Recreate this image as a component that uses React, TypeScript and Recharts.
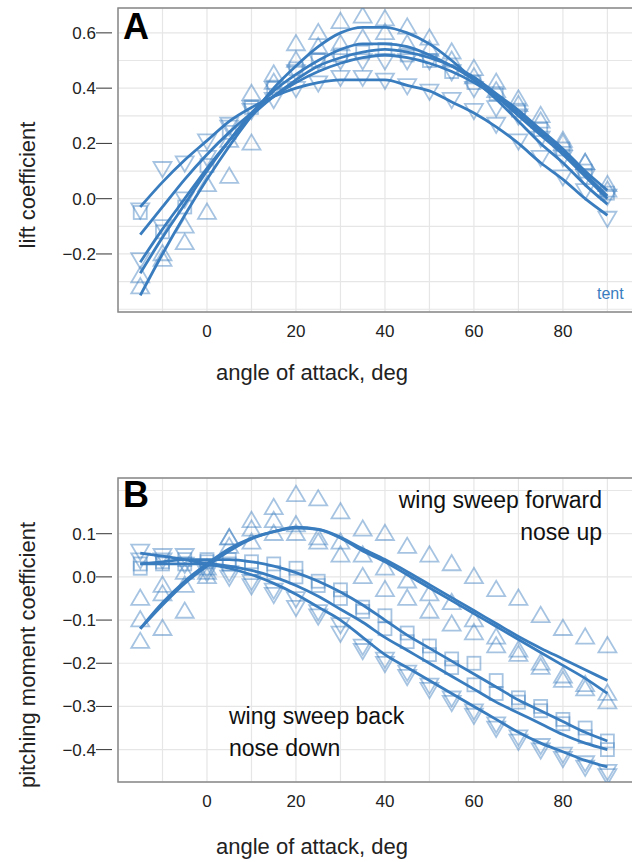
import React from "react";
import { ComposedChart, Line, Scatter, XAxis, YAxis, CartesianGrid, ReferenceArea } from "recharts";

const angles = [-15,-10,-5,0,5,10,15,20,25,30,35,40,45,50,55,60,65,70,75,80,85,90];

const liftFit1 = [-0.35,-0.20,-0.06,0.07,0.19,0.30,0.40,0.48,0.55,0.60,0.62,0.62,0.60,0.56,0.50,0.43,0.36,0.28,0.20,0.13,0.05,-0.02];
const liftFit2 = [-0.27,-0.14,-0.02,0.10,0.21,0.31,0.39,0.45,0.50,0.54,0.56,0.56,0.55,0.52,0.48,0.43,0.37,0.30,0.23,0.16,0.08,0.00];
const liftFit3 = [-0.23,-0.11,0.00,0.11,0.21,0.30,0.37,0.43,0.48,0.51,0.53,0.54,0.53,0.51,0.48,0.44,0.38,0.32,0.25,0.18,0.10,0.03];
const liftFit4 = [-0.13,-0.03,0.07,0.16,0.24,0.31,0.37,0.42,0.46,0.49,0.51,0.52,0.51,0.49,0.46,0.42,0.37,0.31,0.24,0.17,0.09,0.01];
const liftFit5 = [-0.03,0.06,0.14,0.21,0.28,0.33,0.37,0.40,0.42,0.43,0.43,0.43,0.41,0.39,0.35,0.31,0.26,0.20,0.13,0.07,0.00,-0.06];

const liftUp1 = [-0.32,-0.22,-0.16,-0.05,0.08,0.20,0.45,0.56,0.60,0.64,0.66,0.65,0.62,0.58,0.53,0.47,0.42,0.36,0.30,0.21,0.13,0.05];
const liftUp2 = [-0.28,-0.20,-0.10,0.05,0.21,0.38,0.42,0.50,0.55,0.56,0.58,0.60,0.56,0.54,0.50,0.44,0.39,0.34,0.28,0.20,0.13,0.03];
const liftSq = [-0.05,-0.12,-0.03,0.12,0.24,0.33,0.40,0.47,0.50,0.52,0.53,0.54,0.52,0.50,0.46,0.42,0.38,0.32,0.25,0.18,0.10,0.02];
const liftDn1 = [-0.04,0.11,0.13,0.21,0.27,0.32,0.36,0.40,0.42,0.44,0.44,0.43,0.41,0.39,0.36,0.32,0.27,0.21,0.15,0.08,0.03,-0.07];
const liftDn2 = [-0.22,-0.10,0.00,0.15,0.26,0.33,0.40,0.46,0.50,0.50,0.50,0.50,0.50,0.50,0.46,0.40,0.33,0.30,0.22,0.15,0.08,0.01];

const pitchFit1 = [-0.12,-0.06,-0.01,0.03,0.065,0.09,0.105,0.115,0.11,0.09,0.06,0.035,0.005,-0.025,-0.055,-0.085,-0.115,-0.145,-0.175,-0.205,-0.235,-0.27];
const pitchFit1b = [-0.12,-0.065,-0.015,0.025,0.06,0.088,0.105,0.113,0.11,0.092,0.065,0.04,0.012,-0.018,-0.048,-0.078,-0.108,-0.138,-0.165,-0.19,-0.215,-0.24];
const pitchFit2 = [0.03,0.035,0.04,0.04,0.04,0.035,0.025,0.01,-0.01,-0.035,-0.065,-0.10,-0.135,-0.165,-0.195,-0.225,-0.255,-0.285,-0.31,-0.335,-0.36,-0.38];
const pitchFit3 = [0.03,0.03,0.03,0.03,0.025,0.015,0.0,-0.02,-0.045,-0.075,-0.105,-0.14,-0.17,-0.20,-0.23,-0.26,-0.29,-0.315,-0.34,-0.365,-0.385,-0.40];
const pitchFit4 = [0.055,0.048,0.04,0.03,0.02,0.005,-0.015,-0.04,-0.07,-0.10,-0.14,-0.18,-0.21,-0.24,-0.27,-0.30,-0.33,-0.36,-0.385,-0.405,-0.425,-0.44];

const pitchUp1 = [-0.15,-0.12,-0.08,0.0,0.09,0.13,0.16,0.19,0.18,0.15,0.11,0.10,0.07,0.05,0.03,0.0,-0.03,-0.05,-0.09,-0.12,-0.14,-0.16];
const pitchUp2 = [-0.05,-0.02,0.01,0.02,0.07,0.08,0.10,0.10,0.08,0.05,0.0,-0.03,-0.05,-0.08,-0.11,-0.13,-0.16,-0.18,-0.21,-0.23,-0.25,-0.27];
const pitchUp3 = [-0.10,-0.04,-0.02,0.01,0.09,0.11,0.13,0.12,0.09,0.08,0.05,0.02,-0.01,-0.04,-0.06,-0.10,-0.14,-0.17,-0.20,-0.24,-0.26,-0.29];
const pitchSq1 = [0.03,0.03,0.04,0.04,0.04,0.035,0.03,0.02,-0.01,-0.03,-0.07,-0.09,-0.13,-0.16,-0.19,-0.20,-0.24,-0.28,-0.30,-0.33,-0.35,-0.38];
const pitchSq2 = [0.02,0.035,0.03,0.035,0.03,0.02,0.01,0.0,-0.02,-0.05,-0.08,-0.12,-0.15,-0.18,-0.21,-0.25,-0.27,-0.29,-0.31,-0.34,-0.37,-0.40];
const pitchDn1 = [0.06,0.05,0.05,0.02,0.01,-0.01,-0.03,-0.05,-0.08,-0.11,-0.16,-0.19,-0.22,-0.25,-0.28,-0.31,-0.34,-0.37,-0.39,-0.41,-0.43,-0.45];
const pitchDn2 = [0.04,0.04,0.03,0.01,0.0,-0.02,-0.04,-0.07,-0.09,-0.13,-0.17,-0.20,-0.23,-0.26,-0.29,-0.32,-0.35,-0.38,-0.40,-0.42,-0.44,-0.46];

const xTicks = [-20,-10,0,10,20,30,40,50,60,70,80,90];
const liftTicks = [-0.4,-0.3,-0.2,-0.1,0,0.1,0.2,0.3,0.4,0.5,0.6];
const pitchTicks = [-0.4,-0.35,-0.3,-0.25,-0.2,-0.15,-0.1,-0.05,0,0.05,0.1,0.15,0.2];

const BLUE = "#3a7dbf";
const FONT = "'Liberation Sans', Arial, sans-serif";

const liftData = angles.map((x, i) => ({
  x, f1: liftFit1[i], f2: liftFit2[i], f3: liftFit3[i], f4: liftFit4[i], f5: liftFit5[i],
  u1: liftUp1[i], u2: liftUp2[i], s1: liftSq[i], d1: liftDn1[i], d2: liftDn2[i],
}));
const pitchData = angles.map((x, i) => ({
  x, f1: pitchFit1[i], f1b: pitchFit1b[i], f2: pitchFit2[i], f3: pitchFit3[i], f4: pitchFit4[i],
  u1: pitchUp1[i], u2: pitchUp2[i], u3: pitchUp3[i], s1: pitchSq1[i], s2: pitchSq2[i], d1: pitchDn1[i], d2: pitchDn2[i],
}));

const mk = (kind: string) => (p: any) => {
  const { cx, cy } = p;
  if (cx == null || cy == null) return <g />;
  const r = 9;
  let el;
  if (kind === "up") el = <polygon points={`${cx},${cy - r} ${cx - r},${cy + r * 0.7} ${cx + r},${cy + r * 0.7}`} />;
  else if (kind === "dn") el = <polygon points={`${cx},${cy + r} ${cx - r},${cy - r * 0.7} ${cx + r},${cy - r * 0.7}`} />;
  else el = <rect x={cx - 6.5} y={cy - 6.5} width={13} height={13} />;
  return <g fill="none" stroke={BLUE} strokeOpacity={0.45} strokeWidth={1.8}>{el}</g>;
};

const xTick = (p: any) => {
  const v = p.payload.value;
  if (v % 20 !== 0 || v < 0) return <g />;
  return <text x={p.x} y={p.y + 17} textAnchor="middle" fontSize={17} fill="#222" fontFamily={FONT}>{v}</text>;
};
const yTick = (major: number[]) => (p: any) => {
  const v = p.payload.value;
  const isMajor = major.some((m) => Math.abs(m - v) < 1e-6);
  if (!isMajor) return <g />;
  const s = v.toFixed(1).replace("-", "\u2212");
  return (
    <g>
      <line x1={p.x - 14} x2={p.x + 2} y1={p.y} y2={p.y} stroke="#333" strokeWidth={1} />
      <text x={p.x - 14} y={p.y + 6} textAnchor="end" fontSize={17} fill="#222" fontFamily={FONT}>{s}</text>
    </g>
  );
};

const Panel = ({ data, domain, yTicks, major, lines, scatters }: any) => (
  <ComposedChart width={660} height={400} data={data} margin={{ top: 8, right: 17, bottom: 0, left: 0 }}>
    <CartesianGrid stroke="#e6e6e6" strokeWidth={1.2} />
    <XAxis dataKey="x" type="number" domain={[-20, 98]} ticks={xTicks} axisLine={false} tickLine={false} height={88} tick={xTick} allowDataOverflow />
    <YAxis type="number" domain={domain} ticks={yTicks} axisLine={false} tickLine={false} width={118} tick={yTick(major)} allowDataOverflow />
    {scatters.map((s: any) => (
      <Scatter key={s.k} dataKey={s.k} shape={mk(s.kind)} isAnimationActive={false} />
    ))}
    {lines.map((k: string) => (
      <Line key={k} dataKey={k} type="monotone" stroke={BLUE} strokeWidth={2.8} dot={false} isAnimationActive={false} />
    ))}
    <ReferenceArea x1={-20} x2={98} y1={domain[0]} y2={domain[1]} fill="none" stroke="#888" strokeWidth={1.5} ifOverflow="visible" />
  </ComposedChart>
);

const abs = (s: any): React.CSSProperties => ({ position: "absolute", fontFamily: FONT, whiteSpace: "nowrap", ...s });

export default function App() {
  return (
    <div style={{ position: "absolute", left: 0, top: 0, width: 632, height: 862, overflow: "hidden", background: "#fff" }}>
      <div style={{ position: "absolute", left: 0, top: 0 }}>
        <Panel data={liftData} domain={[-0.41, 0.69]} yTicks={liftTicks} major={[-0.2, 0, 0.2, 0.4, 0.6]}
          lines={["f1", "f2", "f3", "f4", "f5"]}
          scatters={[{ k: "u1", kind: "up" }, { k: "u2", kind: "up" }, { k: "s1", kind: "sq" }, { k: "d1", kind: "dn" }, { k: "d2", kind: "dn" }]} />
      </div>
      <div style={{ position: "absolute", left: 0, top: 470 }}>
        <Panel data={pitchData} domain={[-0.475, 0.229]} yTicks={pitchTicks} major={[-0.4, -0.3, -0.2, -0.1, 0, 0.1]}
          lines={["f1", "f1b", "f2", "f3", "f4"]}
          scatters={[{ k: "u1", kind: "up" }, { k: "u2", kind: "up" }, { k: "u3", kind: "up" }, { k: "s1", kind: "sq" }, { k: "s2", kind: "sq" }, { k: "d1", kind: "dn" }, { k: "d2", kind: "dn" }]} />
      </div>
      <div style={abs({ left: 123, top: 6, fontSize: 36, fontWeight: "bold", color: "#000" })}>A</div>
      <div style={abs({ left: 123, top: 474, fontSize: 36, fontWeight: "bold", color: "#000" })}>B</div>
      <div style={abs({ left: 597, top: 285, fontSize: 16, color: BLUE })}>tent</div>
      <div style={abs({ left: 312, top: 373, transform: "translate(-50%,-50%)", fontSize: 22, color: "#222" })}>angle of attack, deg</div>
      <div style={abs({ left: 312, top: 847, transform: "translate(-50%,-50%)", fontSize: 22, color: "#222" })}>angle of attack, deg</div>
      <div style={abs({ left: 28, top: 185, transform: "translate(-50%,-50%) rotate(-90deg)", fontSize: 22, color: "#222" })}>lift coefficient</div>
      <div style={abs({ left: 28, top: 655, transform: "translate(-50%,-50%) rotate(-90deg)", fontSize: 22, color: "#222" })}>pitching moment coefficient</div>
      <div style={abs({ right: 30, top: 484, fontSize: 23, color: "#111", textAlign: "right", lineHeight: "32px" })}>wing sweep forward<br />nose up</div>
      <div style={abs({ left: 229, top: 700, fontSize: 23, color: "#111", lineHeight: "32px" })}>wing sweep back<br />nose down</div>
    </div>
  );
}
